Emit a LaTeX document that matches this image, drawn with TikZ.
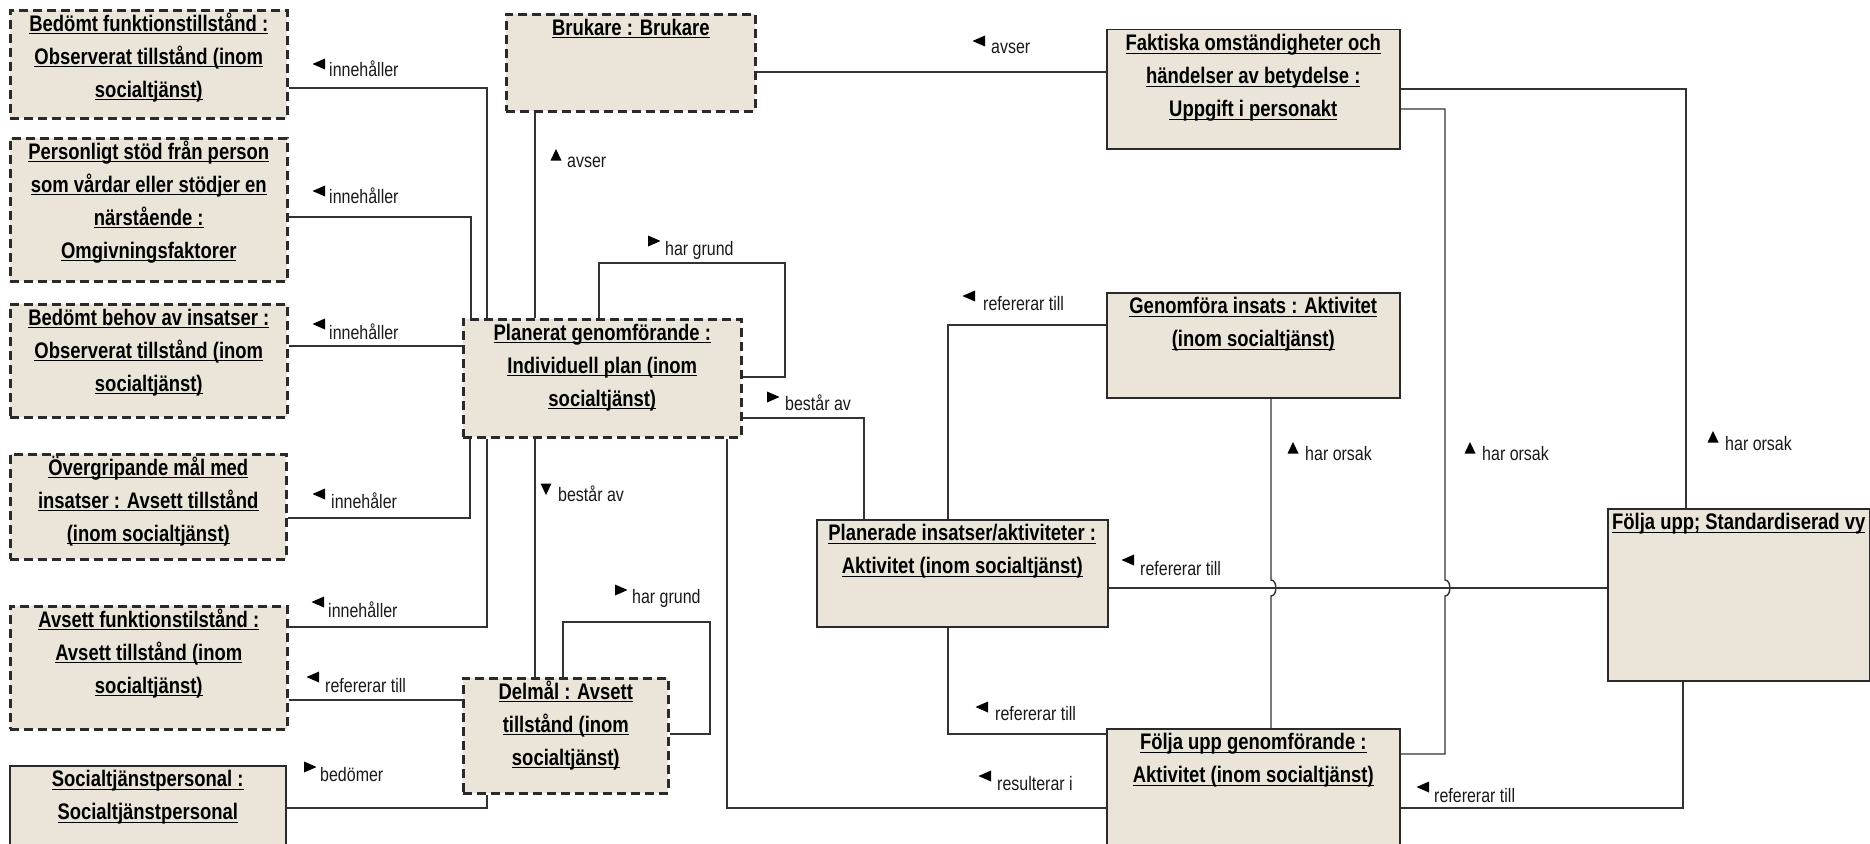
\documentclass[tikz,border=0pt]{standalone}
\usepackage{fontspec}
\setmainfont{Liberation Sans}[FakeStretch=0.82]
\definecolor{boxfill}{HTML}{EBE5D9}
\definecolor{edge}{HTML}{2A2A2A}
\definecolor{wire}{HTML}{333333}
\pgfdeclarelayer{bg}
\pgfsetlayers{bg,main}
\newcommand{\uln}[1]{\leavevmode\strut\setbox0\hbox{#1}\rlap{\rule[-3pt]{\wd0}{1.3pt}}\box0\par}
\newcommand{\ttl}[3]{\parbox[c][#2pt][t]{#1pt}{\centering\fontsize{22.5}{33}\bfseries\selectfont\parskip=0pt\vspace*{-2pt}#3}}
\tikzset{
  dbox/.style={draw=edge, fill=boxfill, line width=2.6pt, dash pattern=on 9pt off 5pt, inner sep=0pt, anchor=north west},
  sbox/.style={draw=edge, fill=boxfill, line width=1.5pt, inner sep=0pt, anchor=north west},
  conn/.style={draw=wire, line width=1.4pt},
  lbl/.style={anchor=base west, inner sep=0pt, font=\fontsize{19.5}{22}\selectfont, text=black!90},
  tl/.pic={\fill[black] (-6.5,0) -- (6,-5.5) -- (6,5.5) -- cycle;},
  tr/.pic={\fill[black] (6.5,0) -- (-6,-5.5) -- (-6,5.5) -- cycle;},
  tu/.pic={\fill[black] (0,-6) -- (5.5,5.5) -- (-5.5,5.5) -- cycle;},
  td/.pic={\fill[black] (0,6) -- (5.5,-5.5) -- (-5.5,-5.5) -- cycle;}
}
\begin{document}
\begin{tikzpicture}[x=1pt,y=-1pt]
\useasboundingbox (0,0) rectangle (1870,843);
\clip (0,0) rectangle (1870,843);

% left column
\node[dbox] (b1) at (9,9) {\ttl{277}{108}{\uln{Bedömt funktionstillstånd :}\uln{Observerat tillstånd (inom}\uln{socialtjänst)}}};
\node[dbox] (b2) at (9,137) {\ttl{277}{143}{\uln{Personligt stöd från person}\uln{som vårdar eller stödjer en}\uln{närstående :}\uln{Omgivningsfaktorer}}};
\node[dbox] (b3) at (9,303) {\ttl{277}{113}{\uln{Bedömt behov av insatser :}\uln{Observerat tillstånd (inom}\uln{socialtjänst)}}};
\node[dbox] (b4) at (9,453) {\ttl{276}{105}{\uln{Övergripande mål med}\uln{insatser : Avsett tillstånd}\uln{(inom socialtjänst)}}};
\node[dbox] (b5) at (9,605) {\ttl{277}{123}{\uln{Avsett funktionstilstånd :}\uln{Avsett tillstånd (inom}\uln{socialtjänst)}}};
\node[sbox] (b6) at (9,765) {\ttl{276}{92}{\uln{Socialtjänstpersonal :}\uln{Socialtjänstpersonal}}};

% middle / right
\node[dbox] (bru) at (505,13) {\ttl{249}{97}{\uln{Brukare : Brukare}}};
\node[sbox] (fak) at (1106,29) {\ttl{293}{119}{\uln{Faktiska omständigheter och}\uln{händelser av betydelse :}\uln{Uppgift i personakt}}};
\node[dbox] (plan) at (462,318) {\ttl{278}{118}{\uln{Planerat genomförande :}\uln{Individuell plan (inom}\uln{socialtjänst)}}};
\node[sbox] (gen) at (1106,292) {\ttl{293}{105}{\uln{Genomföra insats : Aktivitet}\uln{(inom socialtjänst)}}};
\node[sbox] (pins) at (816,519) {\ttl{291}{107}{\uln{Planerade insatser/aktiviteter :}\uln{Aktivitet (inom socialtjänst)}}};
\node[dbox] (del) at (462,677) {\ttl{205}{115}{\uln{Delmål : Avsett}\uln{tillstånd (inom}\uln{socialtjänst)}}};
\node[sbox] (fug) at (1106,728) {\ttl{293}{125}{\uln{Följa upp genomförande :}\uln{Aktivitet (inom socialtjänst)}}};
\node[sbox] (fvy) at (1607,508) {\ttl{262}{172}{\uln{Följa upp; Standardiserad vy}}};

\begin{pgfonlayer}{bg}
\draw[conn] (b1.east |- 0,88) -| (plan.north -| 487,0);
\draw[conn] (b2.east |- 0,217) -| (plan.north -| 471,0);
\draw[conn] (b3.east |- 0,346) -- (plan.west |- 0,346);
\draw[conn] (b4.east |- 0,518) -| (plan.south -| 470,0);
\draw[conn] (b5.east |- 0,627) -| (plan.south -| 487,0);
\draw[conn] (b5.east |- 0,700) -- (del.west |- 0,700);
\draw[conn] (b6.east |- 0,808) -| (del.south -| 487,0);
\draw[conn] (bru.east |- 0,72) -- (fak.west |- 0,72);
\draw[conn] (bru.south -| 535,0) -- (plan.north -| 535,0);
\draw[conn] (plan.north -| 599,0) |- (785,263) |- (plan.east |- 0,377);
\draw[conn] (plan.east |- 0,418) -| (pins.north -| 864,0);
\draw[conn] (plan.south -| 535,0) -- (del.north -| 535,0);
\draw[conn] (del.north -| 563,0) |- (710,622) |- (del.east |- 0,734);
\draw[conn] (plan.south -| 727,0) |- (fug.west |- 0,808);
\draw[conn] (pins.north -| 948,0) |- (gen.west |- 0,325);
\draw[conn] (pins.south -| 948,0) |- (fug.west |- 0,734);
\draw[conn] (pins.east |- 0,588) -- (fvy.west |- 0,588);
\draw[conn] (gen.south -| 1271,0) -- (1271,580) .. controls (1277.5,580) and (1277.5,596) .. (1271,596) -- (fug.north -| 1271,0);
\draw[conn] (fug.east |- 0,754) -| (1445,596) .. controls (1451.5,596) and (1451.5,580) .. (1445,580) |- (fak.east |- 0,109);
\draw[conn] (fvy.north -| 1686,0) |- (fak.east |- 0,89);
\draw[conn] (fvy.south -| 1683,0) |- (fug.east |- 0,808);
\end{pgfonlayer}

% labels
\node[lbl] (l1) at (329,77) {innehåller}; \pic at (319,64) {tl};
\node[lbl] (l2) at (329,203) {innehåller}; \pic at (319,191) {tl};
\node[lbl] (l3) at (329,339) {innehåller}; \pic at (319,324) {tl};
\node[lbl] (l4) at (331,508) {innehåler}; \pic at (319,494) {tl};
\node[lbl] (l5) at (328,617) {innehåller}; \pic at (318,602) {tl};
\node[lbl] (l6) at (325,692) {refererar till}; \pic at (313,677) {tl};
\node[lbl] (l7) at (320,781) {bedömer}; \pic at (310,767) {tr};
\node[lbl] (l8) at (991,53) {avser}; \pic at (979,41) {tl};
\node[lbl] (l9) at (567,167) {avser}; \pic at (556,155) {tu};
\node[lbl] (l10) at (665,255) {har grund}; \pic at (654,241) {tr};
\node[lbl] (l11) at (785,410) {består av}; \pic at (773,397) {tr};
\node[lbl] (l12) at (558,501) {består av}; \pic at (546,489) {td};
\node[lbl] (l13) at (632,603) {har grund}; \pic at (621,590) {tr};
\node[lbl] (l14) at (997,790) {resulterar i}; \pic at (985,776) {tl};
\node[lbl] (l15) at (983,310) {refererar till}; \pic at (969,296) {tl};
\node[lbl] (l16) at (995,720) {refererar till}; \pic at (982,707) {tl};
\node[lbl] (l17) at (1140,575) {refererar till}; \pic at (1128,560) {tl};
\node[lbl] (l18) at (1305,460) {har orsak}; \pic at (1293,448) {tu};
\node[lbl] (l19) at (1482,460) {har orsak}; \pic at (1470,448) {tu};
\node[lbl] (l20) at (1725,450) {har orsak}; \pic at (1713,437) {tu};
\node[lbl] (l21) at (1434,802) {refererar till}; \pic at (1423,787) {tl};
\end{tikzpicture}
\end{document}
